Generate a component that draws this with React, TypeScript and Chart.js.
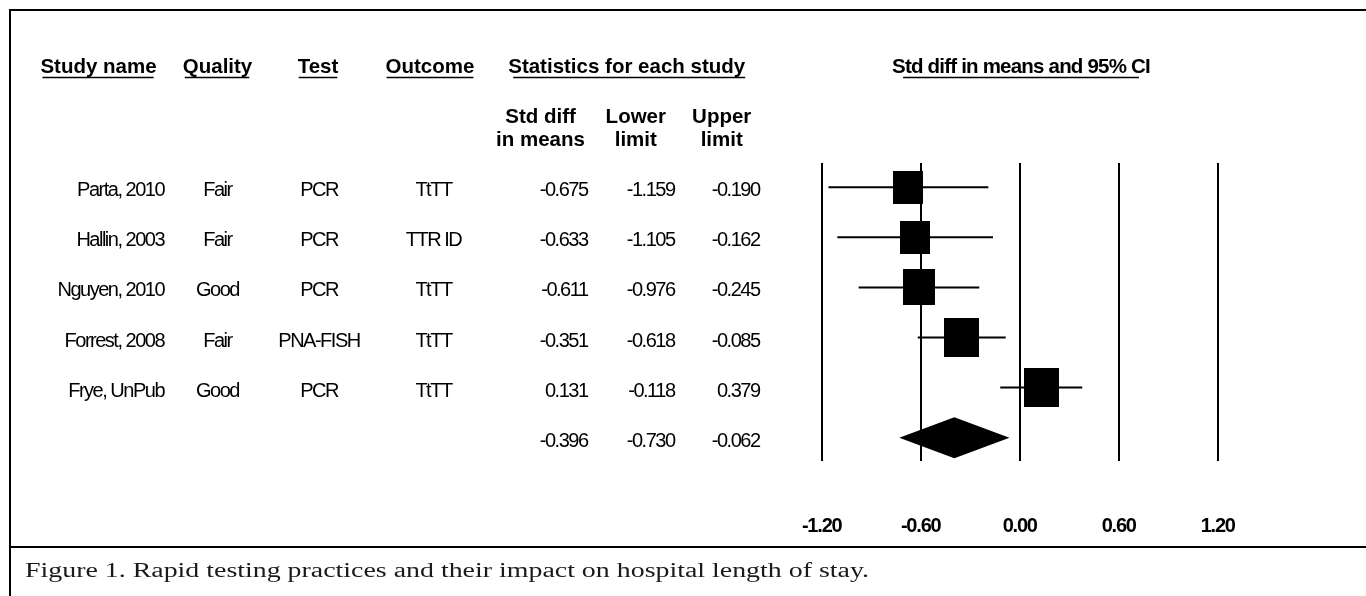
import React, { useEffect, useRef } from "react";
import { Chart, registerables } from "chart.js";

Chart.register(...registerables);

// ---------- data ----------
const studyNames = ["Parta, 2010", "Hallin, 2003", "Nguyen, 2010", "Forrest, 2008", "Frye, UnPub"];
const qualityRatings = ["Fair", "Fair", "Good", "Fair", "Good"];
const testTypes = ["PCR", "PCR", "PCR", "PNA-FISH", "PCR"];
const outcomeTypes = ["TtTT", "TTR ID", "TtTT", "TtTT", "TtTT"];
const stdDiffInMeans = [-0.675, -0.633, -0.611, -0.351, 0.131];
const lowerLimits = [-1.159, -1.105, -0.976, -0.618, -0.118];
const upperLimits = [-0.19, -0.162, -0.245, -0.085, 0.379];
const studyWeights = [16.9, 17.1, 19.6, 23.2, 23.2]; // relative weights (visual estimate)
const summaryStdDiff = [-0.396];
const summaryLower = [-0.73];
const summaryUpper = [-0.062];
const xTickValues = [-1.2, -0.6, 0, 0.6, 1.2];
const captionText = "Figure 1. Rapid testing practices and their impact on hospital length of stay.";

// ---------- styling / layout ----------
const SANS = "'Liberation Sans', Arial, sans-serif";
const SERIF = "'Liberation Serif', 'Times New Roman', serif";
const HEAD_FONT = `bold 20.5px ${SANS}`;
const BODY_FONT = `20px ${SANS}`;
const BODY_LS = -1.5;

function makeBox(weight: number, maxWeight: number): HTMLCanvasElement {
  const f = Math.sqrt(weight / maxWeight);
  const c = document.createElement("canvas");
  c.width = Math.round(35 * f);
  c.height = Math.round(39 * f);
  const g = c.getContext("2d")!;
  g.fillStyle = "#000";
  g.fillRect(0, 0, c.width, c.height);
  return c;
}

function drawText(
  ctx: CanvasRenderingContext2D,
  s: string,
  x: number,
  y: number,
  font: string,
  align: CanvasTextAlign,
  ls: number,
  underline?: { inL: number; inR: number }
) {
  ctx.font = font;
  ctx.textAlign = align;
  (ctx as any).letterSpacing = `${ls}px`;
  ctx.textBaseline = "alphabetic";
  ctx.fillStyle = "#000";
  ctx.fillText(s, x, y);
  if (underline) {
    const w = ctx.measureText(s).width;
    let x0 = x;
    if (align === "center") x0 = x - w / 2;
    else if (align === "right") x0 = x - w;
    ctx.save();
    ctx.strokeStyle = "#000";
    ctx.lineWidth = 1.5;
    ctx.beginPath();
    ctx.moveTo(x0 + underline.inL, y + 4.8);
    ctx.lineTo(x0 + w - underline.inR, y + 4.8);
    ctx.stroke();
    ctx.restore();
  }
}

const tablePlugin = {
  id: "forestTable",
  beforeDraw(chart: any) {
    const ctx = chart.ctx as CanvasRenderingContext2D;
    ctx.save();
    ctx.fillStyle = "#fff";
    ctx.fillRect(0, 0, chart.width, chart.height);
    ctx.restore();
    (ctx as any).letterSpacing = "-1.2px";
  },
  afterDatasetsDraw(chart: any) {
    const ctx = chart.ctx as CanvasRenderingContext2D;
    const xs = chart.scales.x;
    const ys = chart.scales.y;
    const row = studyNames.length + 1;
    const y = ys.getPixelForValue(row);
    const half = 20.5;
    ctx.save();
    ctx.fillStyle = "#000";
    ctx.beginPath();
    ctx.moveTo(xs.getPixelForValue(summaryLower[0]), y);
    ctx.lineTo(xs.getPixelForValue(summaryStdDiff[0]), y - half);
    ctx.lineTo(xs.getPixelForValue(summaryUpper[0]), y);
    ctx.lineTo(xs.getPixelForValue(summaryStdDiff[0]), y + half);
    ctx.closePath();
    ctx.fill();
    ctx.restore();
  },
  afterDraw(chart: any) {
    const ctx = chart.ctx as CanvasRenderingContext2D;
    const ys = chart.scales.y;
    ctx.save();

    // frame lines
    ctx.strokeStyle = "#000";
    ctx.lineWidth = 2;
    ctx.beginPath();
    ctx.moveTo(10, 596);
    ctx.lineTo(10, 10);
    ctx.lineTo(1366, 10);
    ctx.moveTo(9, 547);
    ctx.lineTo(1366, 547);
    ctx.stroke();

    // headers
    const hy = 72.7;
    drawText(ctx, "Study name", 98.5, hy, HEAD_FONT, "center", 0, { inL: 2, inR: 3 });
    drawText(ctx, "Quality", 217.5, hy, HEAD_FONT, "center", 0, { inL: 2, inR: 3 });
    drawText(ctx, "Test", 318, hy, HEAD_FONT, "center", 0, { inL: 1, inR: 1 });
    drawText(ctx, "Outcome", 430, hy, HEAD_FONT, "center", 0, { inL: 1, inR: 1 });
    drawText(ctx, "Statistics for each study", 626.7, hy, HEAD_FONT, "center", 0, { inL: 5, inR: 0 });
    drawText(ctx, "Std diff in means and 95% CI", 1021, hy, HEAD_FONT, "center", -0.8, { inL: 11, inR: 11 });

    drawText(ctx, "Std diff", 540.5, 122.7, HEAD_FONT, "center", 0);
    drawText(ctx, "in means", 540.5, 146, HEAD_FONT, "center", 0);
    drawText(ctx, "Lower", 635.8, 122.7, HEAD_FONT, "center", 0);
    drawText(ctx, "limit", 635.8, 146, HEAD_FONT, "center", 0);
    drawText(ctx, "Upper", 721.7, 122.7, HEAD_FONT, "center", 0);
    drawText(ctx, "limit", 721.7, 146, HEAD_FONT, "center", 0);

    // rows
    studyNames.forEach((name, i) => {
      const by = ys.getPixelForValue(i + 1) + 9;
      drawText(ctx, name, 164, by, BODY_FONT, "right", BODY_LS);
      drawText(ctx, qualityRatings[i], 217.5, by, BODY_FONT, "center", BODY_LS);
      drawText(ctx, testTypes[i], 319, by, BODY_FONT, "center", BODY_LS);
      drawText(ctx, outcomeTypes[i], 433.5, by, BODY_FONT, "center", BODY_LS);
      drawText(ctx, stdDiffInMeans[i].toFixed(3), 587.5, by, BODY_FONT, "right", BODY_LS);
      drawText(ctx, lowerLimits[i].toFixed(3), 674.5, by, BODY_FONT, "right", BODY_LS);
      drawText(ctx, upperLimits[i].toFixed(3), 759.5, by, BODY_FONT, "right", BODY_LS);
    });
    const sy = ys.getPixelForValue(studyNames.length + 1) + 9;
    drawText(ctx, summaryStdDiff[0].toFixed(3), 587.5, sy, BODY_FONT, "right", BODY_LS);
    drawText(ctx, summaryLower[0].toFixed(3), 674.5, sy, BODY_FONT, "right", BODY_LS);
    drawText(ctx, summaryUpper[0].toFixed(3), 759.5, sy, BODY_FONT, "right", BODY_LS);

    // caption (serif, horizontally fitted to the reference width)
    ctx.font = `20px ${SERIF}`;
    (ctx as any).letterSpacing = "0px";
    ctx.textAlign = "left";
    ctx.textBaseline = "alphabetic";
    const w = ctx.measureText(captionText).width;
    const sx = 844 / w;
    ctx.save();
    ctx.translate(25, 577);
    ctx.scale(sx, 1);
    ctx.fillStyle = "#1a1a1a";
    ctx.fillText(captionText, 0, 0);
    ctx.restore();

    ctx.restore();
    (ctx as any).letterSpacing = "0px";
  },
};

export default function App() {
  const ref = useRef<HTMLCanvasElement>(null);

  useEffect(() => {
    const maxW = Math.max(...studyWeights);
    const boxes = studyWeights.map((w) => makeBox(w, maxW));

    const ciDatasets = studyNames.map((name, i) => ({
      type: "line" as const,
      label: `${name} CI`,
      data: [
        { x: lowerLimits[i], y: i + 1 },
        { x: upperLimits[i], y: i + 1 },
      ],
      borderColor: "#000",
      borderWidth: 2,
      pointRadius: 0,
      fill: false,
      tension: 0,
    }));

    const chart = new Chart(ref.current!, {
      type: "scatter",
      data: {
        datasets: [
          ...ciDatasets,
          {
            type: "scatter" as const,
            label: "Std diff in means",
            data: stdDiffInMeans.map((v, i) => ({ x: v, y: i + 1 })),
            pointStyle: boxes as any,
            pointRadius: 10,
            backgroundColor: "#000",
            borderColor: "#000",
          },
        ] as any,
      },
      options: {
        animation: false,
        responsive: false,
        maintainAspectRatio: false,
        devicePixelRatio: 1,
        events: [],
        layout: { padding: { left: 821.7, right: 148.3, top: 163, bottom: 0 } },
        plugins: { legend: { display: false }, tooltip: { enabled: false } },
        scales: {
          x: {
            type: "linear",
            min: xTickValues[0],
            max: xTickValues[xTickValues.length - 1],
            afterBuildTicks: (s: any) => {
              s.ticks = xTickValues.map((v) => ({ value: v }));
            },
            afterFit: (s: any) => {
              s.height = 135;
            },
            grid: { color: "#000", lineWidth: 2, drawTicks: false, drawOnChartArea: true },
            border: { display: false },
            ticks: {
              autoSkip: false,
              maxRotation: 0,
              padding: 53,
              color: "#000",
              font: { family: SANS, size: 20, weight: "bold" },
              callback: (v: any) => Number(v).toFixed(2),
            },
          },
          y: {
            type: "linear",
            display: false,
            reverse: true,
            min: 0.515,
            max: 6.466,
          },
        },
      },
      plugins: [tablePlugin],
    } as any);

    return () => chart.destroy();
  }, []);

  return (
    <div style={{ position: "absolute", left: 0, top: 0, width: 1366, height: 596, background: "#fff" }}>
      <canvas ref={ref} width={1366} height={596} style={{ display: "block" }} />
    </div>
  );
}
